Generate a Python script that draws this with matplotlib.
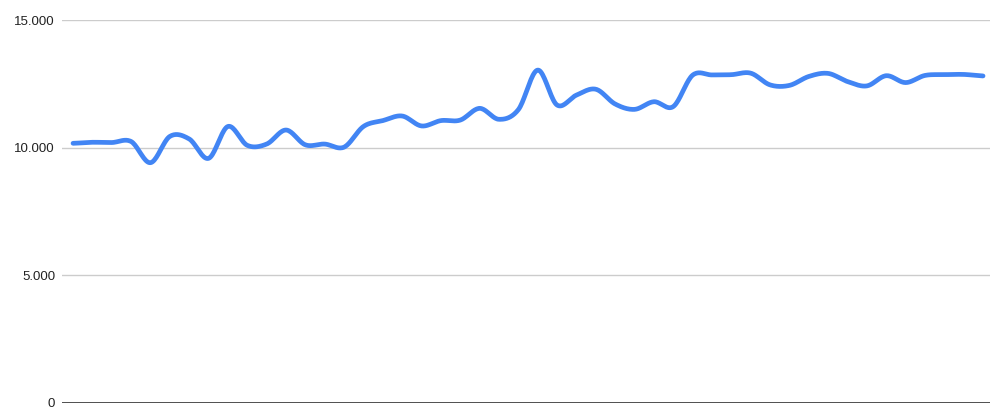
import numpy as np
import matplotlib.pyplot as plt

# values (thousands)
values = [10.18, 10.22, 10.21, 10.25, 9.42, 10.45, 10.35, 9.59, 10.84, 10.10,
          10.15, 10.70, 10.12, 10.15, 10.03, 10.84, 11.07, 11.25, 10.86, 11.07,
          11.09, 11.55, 11.12, 11.50, 13.05, 11.68, 12.07, 12.30, 11.72, 11.51,
          11.81, 11.62, 12.85, 12.86, 12.87, 12.93, 12.47, 12.45, 12.80, 12.92,
          12.60, 12.43, 12.83, 12.56, 12.84, 12.87, 12.88, 12.82]
values = [v * 1000 for v in values]
yticks = [0, 5000, 10000, 15000]
ytick_labels = ['0', '5.000', '10.000', '15.000']


def smooth(x, y, n=20):
    # catmull-rom curve through the points, only for drawing
    x = np.asarray(x, float)
    y = np.asarray(y, float)
    px = np.concatenate([[2*x[0]-x[1]], x, [2*x[-1]-x[-2]]])
    py = np.concatenate([[y[0]], y, [y[-1]]])
    xs, ys = [], []
    t = np.linspace(0, 1, n, endpoint=False)
    for i in range(1, len(px)-2):
        for p, out in ((px, xs), (py, ys)):
            p0, p1, p2, p3 = p[i-1], p[i], p[i+1], p[i+2]
            out.extend(0.5*((2*p1) + (-p0+p2)*t + (2*p0-5*p1+4*p2-p3)*t**2
                            + (-p0+3*p1-3*p2+p3)*t**3))
    xs.append(x[-1])
    ys.append(y[-1])
    return np.array(xs), np.array(ys)


fig = plt.figure(figsize=(10, 4.11), dpi=100)
ax = fig.add_axes([0.062, 0.0195, 0.928, 0.931])

x = np.arange(len(values))
sx, sy = smooth(x, values)
ax.plot(sx, sy, color='#4285F4', lw=3.4, solid_capstyle='round', zorder=3)

ax.set_ylim(0, 15000)
ax.set_xlim(-0.57, 47.36)
ax.set_yticks(yticks)
ax.set_yticklabels(ytick_labels, fontsize=9.5, color='#222222', family='Liberation Sans')
ax.set_xticks([])
ax.tick_params(axis='y', length=0, pad=5)
ax.grid(axis='y', color='#cccccc', lw=1)
ax.axhline(0, color='#333333', lw=1.2, zorder=2)
for s in ax.spines.values():
    s.set_visible(False)

fig.savefig('out.png', dpi=100)
